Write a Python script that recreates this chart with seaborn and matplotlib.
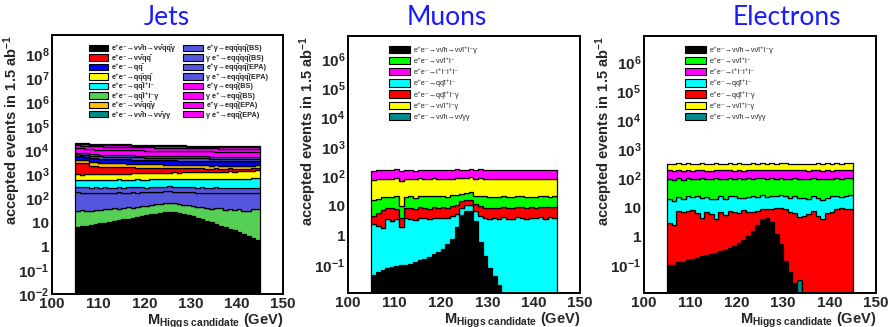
import numpy as np
import pandas as pd
import matplotlib
matplotlib.use("Agg")
import matplotlib.pyplot as plt
import seaborn as sns
from matplotlib.patches import Patch
from matplotlib.ticker import LogLocator, FuncFormatter, MultipleLocator, NullFormatter

sns.set_theme(style="white")
plt.rcParams.update({
    "font.family": ["Liberation Sans", "DejaVu Sans"],
    "font.weight": "bold",
    "mathtext.fontset": "custom",
    "mathtext.rm": "Liberation Sans:bold",
    "mathtext.it": "Liberation Sans:bold",
    "mathtext.bf": "Liberation Sans:bold",
    "mathtext.sf": "Liberation Sans:bold",
    "mathtext.default": "rm",
    "mathtext.fallback": "stixsans",
})

# ---------------- data ----------------
edges = list(range(105, 146))          # 1 GeV bins 105..145
centers = [e + 0.5 for e in edges[:-1]]

# Jets channel components (events / bin)
jets_sig = [6.2, 6.6, 7.0, 7.5, 8.1, 8.8, 9.5, 10.3, 11.1, 12.0, 13.0, 14.2, 15.4, 16.7, 18.0, 19.6, 21.2, 22.8, 24.5, 25.8,
            26.0, 25.5, 24.2, 22.5, 20.2, 17.8, 15.5, 13.4, 11.6, 10.0, 8.4, 7.2, 6.2, 5.3, 4.5, 3.9, 3.2, 2.7, 2.2, 1.8]
jets_qqllg = [24, 26, 22, 21, 24, 23, 25, 24, 27, 24, 26, 28, 25, 27, 30, 30, 29, 33, 34, 36,
              38, 37, 33, 30, 34, 30, 27, 31, 29, 27, 30, 33, 26, 30, 27, 31, 25, 28, 32, 34]
jets_eg4q_bs = [150, 140, 135, 142, 138, 130, 136, 128, 133, 140, 131, 127, 135, 129, 132, 126, 134, 130, 128, 136,
                131, 125, 133, 129, 127, 135, 130, 126, 132, 128, 134, 129, 127, 133, 130, 126, 131, 128, 135, 130]
jets_ge4q_bs = [120, 112, 118, 110, 115, 108, 116, 111, 106, 114, 109, 113, 107, 112, 110, 105, 113, 108, 111, 106,
                114, 109, 107, 112, 105, 110, 108, 113, 106, 111, 109, 104, 112, 107, 110, 105, 113, 108, 106, 111]
jets_qqll = [300, 290, 310, 295, 305, 300, 315, 298, 310, 320, 305, 318, 312, 325, 308, 320, 330, 315, 335, 322,
             318, 340, 328, 345, 332, 350, 338, 360, 345, 355, 370, 352, 365, 380, 362, 375, 390, 370, 395, 410]
jets_qqqq = [420, 400, 430, 410, 440, 425, 450, 445, 470, 460, 480, 475, 500, 490, 510, 505, 520, 540, 530, 555,
             545, 570, 560, 590, 580, 600, 615, 605, 630, 620, 650, 640, 665, 680, 670, 700, 690, 720, 740, 760]
jets_nnqq = [1900, 1950, 1850, 1200, 1150, 1100, 1050, 1000, 980, 950, 900, 870, 850, 800, 780, 760, 720, 700, 680, 650,
             640, 610, 600, 580, 560, 540, 520, 510, 490, 470, 460, 450, 440, 420, 410, 400, 390, 380, 370, 360]
jets_nnqqg = [1200, 1150, 1100, 1080, 1050, 1000, 980, 950, 930, 900, 880, 860, 850, 820, 800, 790, 770, 750, 740, 720,
              700, 690, 680, 660, 650, 640, 620, 610, 600, 590, 580, 570, 560, 560, 550, 545, 540, 540, 540, 540]
jets_qq = [1500, 1480, 1460, 1450, 1430, 1420, 1400, 1410, 1390, 1380, 1370, 1360, 1350, 1340, 1350, 1330, 1320, 1310, 1300, 1310,
           1290, 1280, 1270, 1280, 1260, 1250, 1260, 1240, 1230, 1240, 1220, 1210, 1220, 1200, 1210, 1200, 1190, 1200, 1180, 1200]
jets_hgg = [3, 3, 3, 3, 3, 3, 3, 3, 3, 3, 3, 3, 3, 3, 3, 3, 4, 5, 8, 12,
            12, 8, 5, 4, 3, 3, 3, 3, 3, 3, 3, 3, 3, 3, 3, 3, 3, 3, 3, 3]
jets_eg4q_epa = [1100, 1050, 1080, 1020, 1060, 1040, 1010, 1050, 1030, 1000, 1040, 1020, 990, 1030, 1010, 1000, 1020, 990, 1010, 1000,
                 980, 1010, 990, 1000, 970, 1000, 990, 980, 1000, 970, 990, 980, 960, 990, 970, 980, 960, 980, 970, 960]
jets_ge4q_epa = [1100, 1060, 1040, 1070, 1030, 1050, 1020, 1040, 1010, 1030, 1000, 1020, 1010, 990, 1020, 1000, 990, 1010, 980, 1000,
                 990, 970, 1000, 980, 990, 960, 980, 970, 990, 960, 970, 980, 950, 970, 960, 950, 970, 950, 960, 950]
jets_eg2q_bs = [4500, 4300, 4200, 4250, 4100, 4150, 4050, 4000, 4100, 3950, 3900, 4000, 3850, 3900, 3800, 3850, 3750, 3800, 3700, 3750,
                3650, 3700, 3600, 3650, 3550, 3600, 3500, 3550, 3450, 3500, 3400, 3450, 3350, 3400, 3300, 3350, 3250, 3300, 3200, 3250]
jets_ge2q_bs = [4000, 3850, 3900, 3800, 3750, 3800, 3700, 3650, 3700, 3600, 3550, 3600, 3500, 3450, 3500, 3400, 3450, 3350, 3400, 3300,
                3350, 3250, 3300, 3200, 3250, 3150, 3200, 3100, 3150, 3050, 3100, 3000, 3050, 2950, 3000, 2900, 2950, 2900, 2850, 2900]
jets_eg2q_epa = [2500, 2400, 2450, 2350, 2400, 2300, 2350, 2250, 2300, 2200, 2250, 2150, 2200, 2100, 2150, 2100, 2050, 2100, 2000, 2050,
                 2000, 1950, 2000, 1950, 1900, 1950, 1900, 1850, 1900, 1850, 1800, 1850, 1800, 1800, 1750, 1800, 1750, 1800, 1750, 1800]
jets_ge2q_epa = [2000, 1950, 1900, 1950, 1850, 1900, 1850, 1800, 1850, 1750, 1800, 1750, 1700, 1750, 1650, 1700, 1650, 1600, 1650, 1600,
                 1550, 1600, 1550, 1500, 1550, 1500, 1450, 1500, 1450, 1400, 1450, 1400, 1400, 1350, 1400, 1350, 1400, 1350, 1400, 1400]

# Muon channel components
mu_sig = [0.044, 0.055, 0.065, 0.075, 0.085, 0.09, 0.095, 0.10, 0.11, 0.12, 0.14, 0.16, 0.19, 0.24, 0.28, 0.35, 0.52, 0.77, 1.9, 4.8,
          7.0, 7.0, 3.0, 0.6, 0.2, 0.08, 0.04, 0.02, 0, 0, 0, 0, 0, 0, 0, 0, 0, 0, 0, 0]
mu_hgg = [0] * 40
mu_qqll = [2.3, 2.1, 1.7, 3.4, 3.1, 3.6, 1.8, 3.8, 3.5, 3.3, 3.9, 3.6, 3.4, 3.8, 3.5, 3.7, 3.3, 3.9, 3.6, 3.4,
           4.0, 3.5, 3.7, 3.8, 3.6, 3.4, 3.9, 3.5, 4.1, 3.7, 3.6, 4.2, 3.8, 3.5, 4.0, 3.9, 4.3, 3.7, 4.1, 4.0]
mu_qqllg = [2.1, 3.5, 5.5, 4.8, 5.2, 4.5, 2.0, 4.6, 5.0, 4.2, 5.4, 4.9, 4.4, 5.1, 4.7, 5.3, 4.6, 5.0, 5.5, 6.0,
            5.2, 5.8, 4.9, 5.3, 4.8, 5.2, 4.6, 5.0, 5.4, 4.7, 5.1, 4.9, 5.3, 4.8, 5.2, 4.6, 5.0, 5.4, 4.9, 5.1]
mu_nnll = [11, 12, 13, 12, 11, 13, 6, 12, 13, 11, 12, 13, 14, 12, 13, 12, 11, 13, 12, 11,
           12, 13, 11, 12, 13, 12, 11, 12, 13, 12, 11, 12, 13, 12, 11, 12, 13, 12, 11, 12]
mu_nnllg = [60, 62, 65, 60, 63, 66, 61, 64, 60, 62, 65, 63, 61, 66, 62, 64, 60, 63, 65, 61,
            62, 64, 60, 66, 62, 63, 61, 65, 62, 60, 64, 63, 61, 62, 65, 60, 63, 64, 61, 62]
mu_4l = [80, 85, 78, 90, 82, 88, 80, 84, 86, 79, 83, 88, 81, 85, 87, 80, 84, 82, 86, 80,
         83, 85, 81, 88, 84, 80, 86, 82, 85, 83, 80, 87, 82, 84, 81, 86, 83, 80, 85, 82]

# Electron channel components
el_sig = [0.10, 0.10, 0.12, 0.13, 0.15, 0.17, 0.18, 0.20, 0.22, 0.24, 0.27, 0.30, 0.34, 0.40, 0.47, 0.59, 0.75, 1.0, 1.5, 2.5,
          4.0, 4.4, 3.0, 1.2, 0.5, 0.14, 0.06, 0.025, 0, 0, 0, 0, 0, 0, 0, 0, 0, 0, 0, 0]
el_hgg = [0, 0, 0.01, 0, 0, 0, 0, 0, 0, 0, 0, 0, 0, 0, 0, 0, 0, 0, 0, 0,
          0, 0, 0, 0, 0.02, 0, 0, 0, 0.03, 0, 0, 0, 0, 0, 0, 0, 0, 0, 0, 0]
el_qqllg = [2.8, 2.3, 7.0, 6.5, 7.5, 8.0, 6.0, 4.0, 6.8, 5.5, 3.5, 6.5, 5.2, 7.0, 6.3, 5.8, 7.2, 6.0, 5.5, 5.0,
            4.5, 4.0, 5.5, 8.0, 8.8, 8.5, 7.0, 6.5, 4.5, 5.0, 6.0, 7.5, 5.0, 4.0, 6.5, 7.0, 8.5, 9.5, 9.0, 9.0]
el_qqll = [17, 14, 15, 13, 16, 14, 18, 17, 15, 13, 16, 18, 14, 16, 17, 15, 13, 16, 18, 15,
           17, 14, 16, 15, 18, 16, 14, 17, 16, 15, 13, 17, 16, 14, 15, 18, 16, 13, 16, 17]
el_nnll = [75, 72, 78, 70, 76, 74, 71, 77, 73, 75, 79, 72, 74, 76, 70, 78, 73, 75, 71, 77,
           74, 72, 76, 73, 78, 70, 75, 74, 72, 77, 73, 76, 71, 75, 74, 72, 78, 73, 75, 74]
el_4l = [90, 88, 95, 85, 92, 87, 90, 94, 86, 89, 93, 88, 91, 85, 90, 94, 87, 92, 89, 86,
         91, 95, 88, 90, 86, 93, 89, 87, 92, 90, 85, 91, 94, 88, 90, 86, 92, 89, 87, 91]
el_nnllg = [130, 135, 128, 140, 132, 136, 130, 138, 134, 129, 137, 131, 135, 140, 128, 133, 136, 130, 138, 132,
            135, 129, 137, 133, 131, 139, 134, 130, 136, 132, 138, 129, 135, 133, 137, 130, 134, 131, 136, 133]

# ---------------- labels / colours ----------------
BAR = "\u0304"
EE = "e\u207ae\u207b\u2192"
NN = "\u03bd\u03bd" + BAR
QQ = "qq" + BAR
LL = "l\u207al\u207b"
G = "\u03b3"
AR = "\u2192"
EG = "e\u207a\u03b3" + AR + "e"
GE = "\u03b3 e\u207a" + AR + "e"

BLACK, RED, BLUE, YELLOW, CYAN = "#000000", "#ff0000", "#0000ff", "#ffff00", "#00ffff"
LGREEN, ORANGE, TEAL, SLATE, MAGENTA, GREEN = "#55d055", "#ffc000", "#008b8b", "#5555dd", "#ff00ff", "#00ff00"

jets = [  # (label, colour, values) in legend order
    (EE + NN + "h" + AR + NN + QQ + G, BLACK, jets_sig),
    (EE + NN + QQ, RED, jets_nnqq),
    (EE + QQ, BLUE, jets_qq),
    (EE + QQ + QQ, YELLOW, jets_qqqq),
    (EE + QQ + LL, CYAN, jets_qqll),
    (EE + QQ + LL + G, LGREEN, jets_qqllg),
    (EE + NN + QQ + G, ORANGE, jets_nnqqg),
    (EE + NN + "h" + AR + NN + G + G, TEAL, jets_hgg),
    (EG + QQ + QQ + "(BS)", SLATE, jets_eg4q_bs),
    (GE + QQ + QQ + "(BS)", SLATE, jets_ge4q_bs),
    (EG + QQ + QQ + "(EPA)", SLATE, jets_eg4q_epa),
    (GE + QQ + QQ + "(EPA)", SLATE, jets_ge4q_epa),
    (EG + QQ + "(BS)", MAGENTA, jets_eg2q_bs),
    (GE + QQ + "(BS)", MAGENTA, jets_ge2q_bs),
    (EG + QQ + "(EPA)", MAGENTA, jets_eg2q_epa),
    (GE + QQ + "(EPA)", MAGENTA, jets_ge2q_epa),
]
jets_stack = [0, 5, 8, 9, 4, 3, 1, 6, 2, 7, 10, 11, 12, 13, 14, 15]   # bottom -> top

lep_labels = [EE + NN + "h" + AR + NN + LL + G, EE + NN + LL, EE + LL + LL,
              EE + QQ + LL, EE + QQ + LL + G, EE + NN + LL + G,
              EE + NN + "h" + AR + NN + G + G]
lep_colors = [BLACK, GREEN, MAGENTA, CYAN, RED, YELLOW, TEAL]
muons = list(zip(lep_labels, lep_colors, [mu_sig, mu_nnll, mu_4l, mu_qqll, mu_qqllg, mu_nnllg, mu_hgg]))
mu_stack = [0, 6, 3, 4, 1, 5, 2]
electrons = list(zip(lep_labels, lep_colors, [el_sig, el_nnll, el_4l, el_qqll, el_qqllg, el_nnllg, el_hgg]))
el_stack = [0, 6, 4, 3, 1, 2, 5]

fig = plt.figure(figsize=(8.89, 3.27), dpi=100)
axes_pos = [[0.0585, 0.101, 0.2598, 0.792], [0.3915, 0.104, 0.261, 0.786], [0.7244, 0.104, 0.261, 0.786]]
titles = ["Jets", "Muons", "Electrons"]
title_x = [0.188, 0.503, 0.885]
ylims = [(1e-2, 6.6e8), (1.1e-2, 6e6), (1.1e-2, 8e6)]


def fmt(v, pos):
    e = int(round(np.log10(v)))
    if e == 0:
        return "1"
    if e == 1:
        return "10"
    return r"$10^{%d}$" % e


def draw(ax, procs, order, ylim, leg_kw, leg_weight):
    ax.set_yscale("log")
    rows = []
    for i in order:
        lab, col, vals = procs[i]
        for c, v in zip(centers, vals):
            rows.append({"m": c, "w": v, "proc": "p%02d" % i})
    df = pd.DataFrame(rows)
    hue_order = ["p%02d" % i for i in order][::-1]
    pal = {"p%02d" % i: procs[i][1] for i in range(len(procs))}
    sns.histplot(data=df, x="m", weights="w", hue="proc", hue_order=hue_order, palette=pal,
                 multiple="stack", bins=edges, element="step", fill=True, alpha=1,
                 edgecolor="black", linewidth=0.9, legend=False, ax=ax)
    ax.set_xlim(100, 150)
    ax.set_ylim(*ylim)
    ax.xaxis.set_major_locator(MultipleLocator(10))
    ax.xaxis.set_minor_locator(MultipleLocator(2))
    ax.yaxis.set_major_locator(LogLocator(base=10, numticks=20))
    ax.yaxis.set_minor_locator(LogLocator(base=10, subs=np.arange(2, 10), numticks=20))
    ax.yaxis.set_major_formatter(FuncFormatter(fmt))
    ax.yaxis.set_minor_formatter(NullFormatter())
    ax.tick_params(axis="both", which="both", direction="in", color="black", labelsize=11, pad=2)
    ax.tick_params(axis="y", which="major", length=8, width=1)
    ax.tick_params(axis="y", which="minor", length=4, width=0.8)
    ax.tick_params(axis="x", which="major", length=7, width=1)
    ax.tick_params(axis="x", which="minor", length=3.5, width=0.8)
    for sp in ax.spines.values():
        sp.set_color("black")
        sp.set_linewidth(1.4)
    ax.set_ylabel(r"accepted events in 1.5 ab$^{-1}$", fontsize=10.5, fontweight="bold", loc="top")
    ax.yaxis.set_label_coords(-0.127, 1.0)
    ax.set_xlabel(r"M$_{\rm Higgs\ candidate}$ (GeV)", fontsize=10.5, fontweight="bold", loc="right")
    ax.xaxis.set_label_coords(1.0, -0.068)
    handles = [Patch(facecolor=p[1], edgecolor="black", linewidth=0.8) for p in procs]
    labels = [p[0] for p in procs]
    ax.legend(handles, labels, frameon=False, prop={"size": leg_kw.pop("fontsize"), "weight": leg_weight,
                                                    "family": ["Liberation Sans", "DejaVu Sans"]}, **leg_kw)


draw_specs = [
    (jets, jets_stack, dict(ncol=2, loc="upper left", bbox_to_anchor=(0.16, 0.963), fontsize=5.2,
                            handlelength=2.7, handleheight=1.0, labelspacing=0.22, columnspacing=1.0,
                            handletextpad=0.5, borderpad=0, borderaxespad=0), "bold"),
    (muons, mu_stack, dict(ncol=1, loc="upper left", bbox_to_anchor=(0.175, 0.962), fontsize=5.2,
                           handlelength=3.0, handleheight=1.2, labelspacing=0.42,
                           handletextpad=0.5, borderpad=0, borderaxespad=0), "normal"),
    (electrons, el_stack, dict(ncol=1, loc="upper left", bbox_to_anchor=(0.175, 0.962), fontsize=5.2,
                               handlelength=3.0, handleheight=1.2, labelspacing=0.42,
                               handletextpad=0.5, borderpad=0, borderaxespad=0), "normal"),
]

for k in range(3):
    ax = fig.add_axes(axes_pos[k])
    procs, order, kw, wt = draw_specs[k]
    draw(ax, procs, order, ylims[k], kw, wt)
    fig.text(title_x[k], 0.945, titles[k], color="#1a1aff", fontsize=19, ha="center", va="center",
             family="Lato", fontweight="normal")

fig.savefig("out.png", dpi=100, facecolor="white")
